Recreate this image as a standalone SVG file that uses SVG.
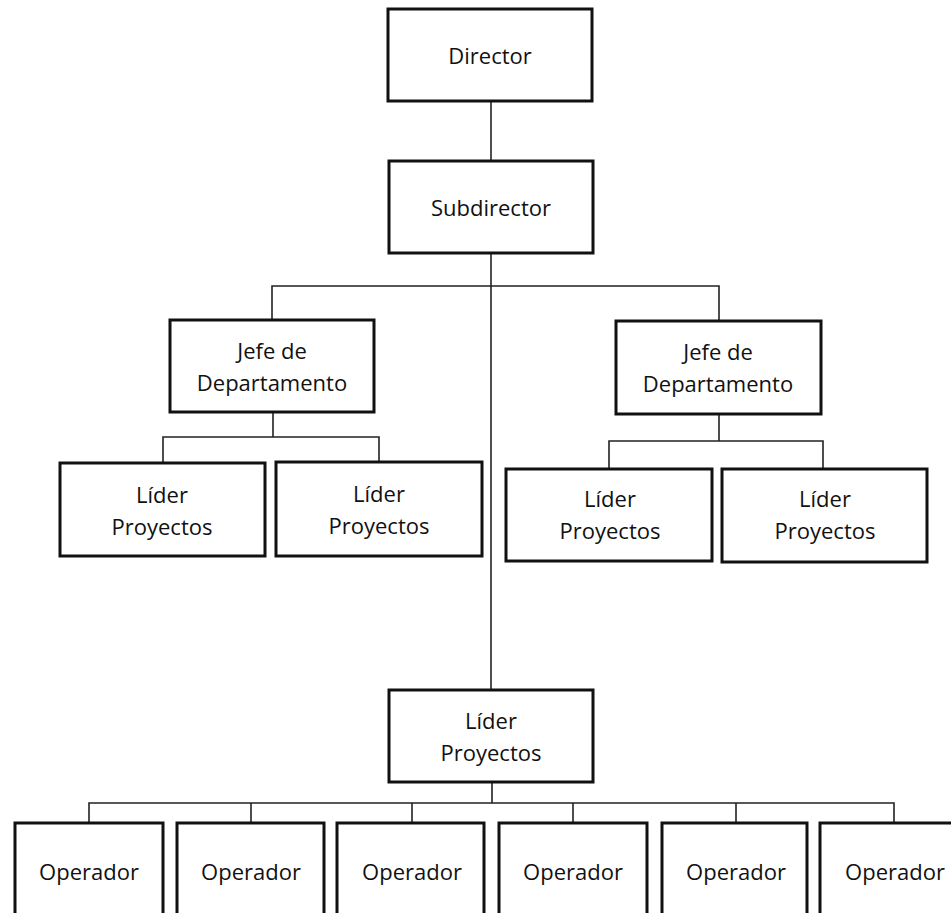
<svg xmlns="http://www.w3.org/2000/svg" width="951" height="913" viewBox="0 0 951 913">
<style>
.box{fill:#fff;stroke:#111;stroke-width:3}
.t{font-family:"Open Sans","Liberation Sans",sans-serif;font-size:22px;fill:#111;text-anchor:middle}
.c{fill:none;stroke:#222;stroke-width:1.6}
</style>
<rect width="951" height="913" fill="#fff"/>
<g id="connectors">
<path class="c" d="M491 101V161"/>
<path class="c" d="M491 253V690"/>
<path class="c" d="M272 320V286H719V321"/>
<path class="c" d="M273 412V437M163 463V437H379V462"/>
<path class="c" d="M719 414V441M609 469V441H823V469"/>
<path class="c" d="M492 782V803M89 823V803H894V823M251 803V823M412 803V823M573 803V823M736 803V823"/>
</g>
<g id="director"><rect class="box" x="388" y="9" width="204" height="92"/><text class="t" x="490" y="64">Director</text></g>
<g id="subdirector"><rect class="box" x="389" y="161" width="204" height="92"/><text class="t" x="491" y="216">Subdirector</text></g>
<g id="jefe1"><rect class="box" x="170" y="320" width="204" height="92"/><text class="t" x="272" y="359">Jefe de</text><text class="t" x="272" y="391">Departamento</text></g>
<g id="jefe2"><rect class="box" x="616" y="321" width="205" height="93"/><text class="t" x="718" y="360">Jefe de</text><text class="t" x="718" y="392">Departamento</text></g>
<g id="lider1"><rect class="box" x="60" y="463" width="205" height="93"/><text class="t" x="162" y="503">Líder</text><text class="t" x="162" y="535">Proyectos</text></g>
<g id="lider2"><rect class="box" x="276" y="462" width="206" height="94"/><text class="t" x="379" y="502">Líder</text><text class="t" x="379" y="534">Proyectos</text></g>
<g id="lider3"><rect class="box" x="506" y="469" width="206" height="92"/><text class="t" x="610" y="507">Líder</text><text class="t" x="610" y="539">Proyectos</text></g>
<g id="lider4"><rect class="box" x="722" y="469" width="205" height="93"/><text class="t" x="825" y="507">Líder</text><text class="t" x="825" y="539">Proyectos</text></g>
<g id="lider5"><rect class="box" x="389" y="690" width="204" height="92"/><text class="t" x="491" y="729">Líder</text><text class="t" x="491" y="761">Proyectos</text></g>
<g id="op1"><rect class="box" x="15" y="823" width="148" height="110"/><text class="t" x="89" y="880">Operador</text></g>
<g id="op2"><rect class="box" x="177" y="823" width="147" height="110"/><text class="t" x="251" y="880">Operador</text></g>
<g id="op3"><rect class="box" x="337" y="823" width="147" height="110"/><text class="t" x="412" y="880">Operador</text></g>
<g id="op4"><rect class="box" x="499" y="823" width="148" height="110"/><text class="t" x="573" y="880">Operador</text></g>
<g id="op5"><rect class="box" x="662" y="823" width="145" height="110"/><text class="t" x="736" y="880">Operador</text></g>
<g id="op6"><rect class="box" x="820" y="823" width="148" height="110"/><text class="t" x="895" y="880">Operador</text></g>
</svg>
